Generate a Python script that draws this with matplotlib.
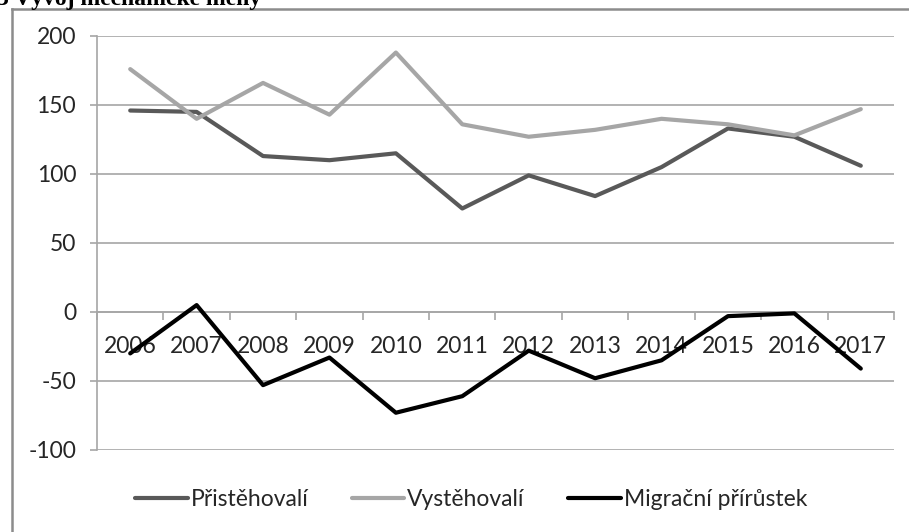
import numpy as np
import matplotlib
matplotlib.use("Agg")
import matplotlib.pyplot as plt
from matplotlib.lines import Line2D

plt.rcParams['font.family'] = ['Lato', 'DejaVu Sans']
plt.rcParams['axes.unicode_minus'] = False

# data
years = ['2006', '2007', '2008', '2009', '2010', '2011',
         '2012', '2013', '2014', '2015', '2016', '2017']
pristehovali = [146, 145, 113, 110, 115, 75, 99, 84, 105, 133, 127, 106]
vystehovali = [176, 140, 166, 143, 188, 136, 127, 132, 140, 136, 128, 147]
migracni = [-30, 5, -53, -33, -73, -61, -28, -48, -35, -3, -1, -41]

W, H = 909, 532
fig = plt.figure(figsize=(W / 100, H / 100), dpi=100)
ax = fig.add_axes([97 / W, 1 - 450 / H, (894 - 97) / W, (450 - 36) / H])

x = np.arange(len(years))
grid_c = '#a6a6a6'
txt_c = '#262626'
fs = 16.5

ax.set_xlim(-0.5, len(years) - 0.5)
ax.set_ylim(-100, 200)
ax.set_yticks(np.arange(-100, 201, 50))
ax.yaxis.grid(True, color=grid_c, lw=1.2)
ax.set_axisbelow(True)

for s in ['top', 'right']:
    ax.spines[s].set_visible(False)
ax.spines['left'].set_color(grid_c)
ax.spines['left'].set_linewidth(1.2)
ax.spines['bottom'].set_position(('data', 0))
ax.spines['bottom'].set_color(grid_c)
ax.spines['bottom'].set_linewidth(1.2)

ax.tick_params(axis='y', length=5, color=grid_c, width=1.2, labelsize=fs,
               labelcolor=txt_c, pad=10)
ax.set_xticks(x)
ax.set_xticklabels(years)
ax.tick_params(axis='x', which='major', length=0, labelsize=fs,
               labelcolor=txt_c, pad=17)
ax.set_xticks(np.arange(-0.5, len(years), 1), minor=True)
ax.tick_params(axis='x', which='minor', length=6, color=grid_c, width=1.2,
               direction='out')

ax.plot(x, pristehovali, color='#595959', lw=3, label='Přistěhovalí',
        solid_capstyle='round', zorder=3)
ax.plot(x, vystehovali, color='#a6a6a6', lw=3, label='Vystěhovalí',
        solid_capstyle='round', zorder=3)
ax.plot(x, migracni, color='#000000', lw=3, label='Migrační přírůstek',
        solid_capstyle='round', zorder=4)

leg = fig.legend(loc='center', bbox_to_anchor=(471 / W, 1 - 500 / H), ncol=3,
                 frameon=False, fontsize=fs, handlelength=2.3,
                 handletextpad=0.12, columnspacing=1.9)
for t in leg.get_texts():
    t.set_color(txt_c)

# outer frame (top and left edges only visible)
fig.add_artist(Line2D([12 / W, 1], [1 - 9 / H, 1 - 9 / H], color='#8c8c8c',
                      lw=1.8, transform=fig.transFigure))
fig.add_artist(Line2D([12 / W, 12 / W], [0, 1 - 9 / H], color='#8c8c8c',
                      lw=1.8, transform=fig.transFigure))

# clipped caption above the chart
fig.text(-3 / W, 1 - 5 / H, '3 Vývoj mechanické měny', family='Liberation Serif',
         weight='bold', fontsize=17, ha='left', va='baseline')

fig.savefig('out.png', dpi=100)
